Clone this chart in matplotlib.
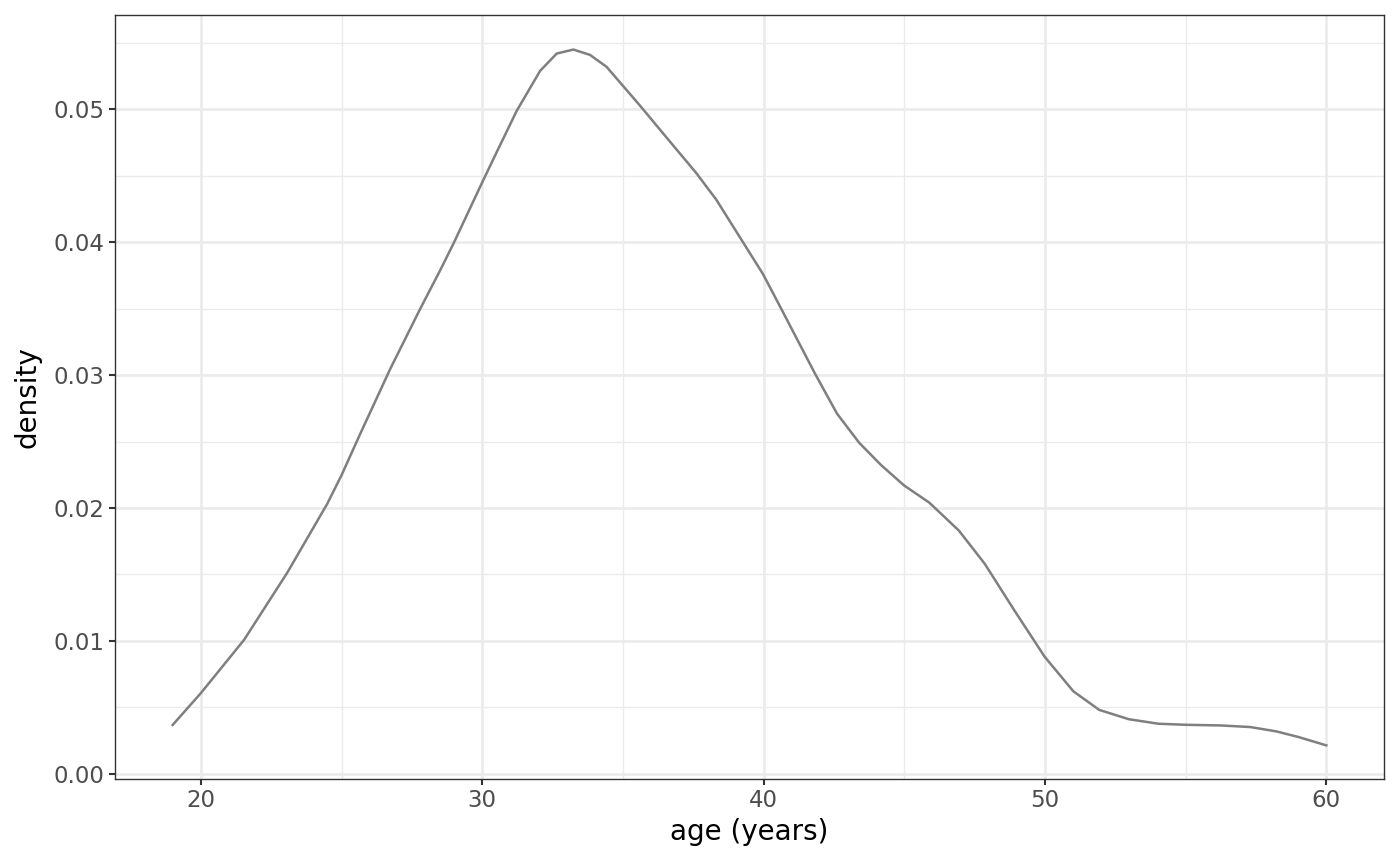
import matplotlib.pyplot as plt
from matplotlib.ticker import MultipleLocator

# density curve
age = [19.0, 20.0, 21.54, 23.07, 24.49, 25.0, 25.67, 26.74, 27.8, 28.51, 28.98, 30.0,
       30.52, 31.23, 32.06, 32.65, 33.24, 33.83, 34.42, 34.99, 35.6, 36.78, 37.61,
       38.32, 39.15, 39.98, 40.65, 41.83, 42.61, 43.4, 44.19, 44.99, 45.89, 46.94,
       47.86, 48.91, 49.99, 51.01, 51.93, 52.98, 54.03, 54.99, 56.26, 57.3, 58.23,
       59.01, 60.0]
density = [0.00367, 0.00606, 0.01008, 0.01512, 0.0203, 0.02246, 0.0256, 0.0305, 0.035,
           0.0379, 0.0399, 0.0445, 0.0468, 0.0499, 0.0529, 0.0542, 0.0545, 0.0541, 0.0532,
           0.0518, 0.0503, 0.0473, 0.0452, 0.0432, 0.0404, 0.0376, 0.0349, 0.0301, 0.0271,
           0.0249, 0.0232, 0.0217, 0.0204, 0.0183, 0.0158, 0.0123, 0.0088, 0.0062, 0.0048,
           0.0041, 0.00376, 0.00368, 0.00363, 0.00351, 0.00318, 0.00276, 0.00213]

fig = plt.figure(figsize=(14, 8.65), dpi=100)
ax = fig.add_axes([115 / 1400, 1 - 779 / 865, (1384 - 115) / 1400, (779 - 15) / 865])

ax.plot(age, density, color='#7F7F7F', lw=1.8, zorder=3, solid_joinstyle='round')

ax.set_xlim(16.95, 62.05)
ax.set_ylim(-0.0004, 0.0571)
ax.xaxis.set_major_locator(MultipleLocator(10))
ax.xaxis.set_minor_locator(MultipleLocator(5))
ax.yaxis.set_major_locator(MultipleLocator(0.01))
ax.yaxis.set_minor_locator(MultipleLocator(0.005))
ax.yaxis.set_major_formatter(plt.FuncFormatter(lambda v, p: f"{v:.2f}"))

ax.grid(which='major', color='#EBEBEB', lw=1.9)
ax.grid(which='minor', color='#EBEBEB', lw=1.0)
ax.set_axisbelow(True)
for s in ax.spines.values():
    s.set_color('#333333')
    s.set_linewidth(1.0)
ax.tick_params(which='major', length=4.5, width=1.5, color='#333333',
               labelsize=16.5, labelcolor='#4D4D4D', pad=3)
ax.tick_params(which='minor', length=0)

ax.set_xlabel("age (years)", fontsize=20, color='black', labelpad=4)
ax.set_ylabel("density", fontsize=20, color='black', labelpad=8.5)

fig.savefig("out.png", dpi=100)
